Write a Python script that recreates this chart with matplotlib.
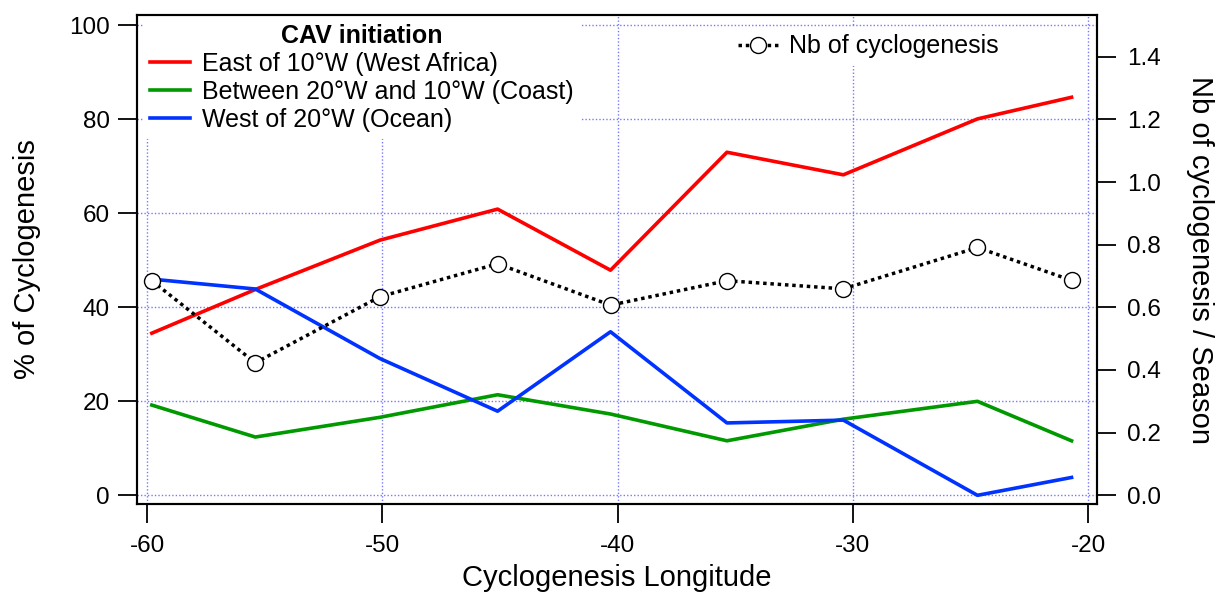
import matplotlib
matplotlib.use("Agg")
from matplotlib import pyplot as plt

plt.rcParams['font.family'] = ['Liberation Sans', 'DejaVu Sans']
plt.rcParams['axes.unicode_minus'] = False

# Donnees
longitude = [-59.8, -55.4, -50.1, -45.1, -40.3, -35.35, -30.4, -24.7, -20.7]
pct_west_africa = [34.5, 43.8, 54.3, 60.9, 47.9, 73.0, 68.2, 80.1, 84.7]
pct_coast = [19.2, 12.4, 16.6, 21.4, 17.3, 11.6, 16.2, 20.0, 11.6]
pct_ocean = [46.0, 43.9, 29.1, 17.9, 34.8, 15.4, 16.0, 0.0, 3.8]
nb_cyclo = [0.685, 0.423, 0.634, 0.739, 0.607, 0.685, 0.659, 0.791, 0.686]

fig = plt.figure(figsize=(12.21, 5.94), dpi=100)
ax = fig.add_axes([0.1122, 0.1515, 0.7862, 0.8232])
ax2 = ax.twinx()

lw = 2.6
ax.plot(longitude, pct_west_africa, color='#ff0000', lw=lw, label='East of 10°W (West Africa)')
ax.plot(longitude, pct_coast, color='#009900', lw=lw, label='Between 20°W and 10°W (Coast)')
ax.plot(longitude, pct_ocean, color='#0033ff', lw=lw, label='West of 20°W (Ocean)')

ax2.plot(longitude, nb_cyclo, color='black', lw=2.5, linestyle=(0, (1, 1.1)),
         marker='o', markersize=11.5, markerfacecolor='white', markeredgecolor='black',
         markeredgewidth=1.0, label='Nb of cyclogenesis')

ax.set_xlim(-60.43, -19.62)
ax.set_ylim(-1.85, 102.2)
ax2.set_ylim(-1.85 * 0.015, 102.2 * 0.015)
ax.set_xticks([-60, -50, -40, -30, -20])
ax.set_yticks([0, 20, 40, 60, 80, 100])
ax2.set_yticks([0.0, 0.2, 0.4, 0.6, 0.8, 1.0, 1.2, 1.4])
ax2.set_yticklabels(['%.1f' % v for v in [0.0, 0.2, 0.4, 0.6, 0.8, 1.0, 1.2, 1.4]])

ax.grid(True, color='#7878ff', linestyle=(0, (1, 1.5)), lw=1.0)
for a in (ax, ax2):
    a.tick_params(direction='out', length=13.5, width=1.3, labelsize=17.5)
    for s in a.spines.values():
        s.set_linewidth(1.5)
ax.tick_params(axis='x', pad=9)
ax.tick_params(axis='y', pad=6)
ax2.tick_params(axis='y', pad=8)

ax.set_xlabel('Cyclogenesis Longitude', fontsize=21, labelpad=5)
ax.set_ylabel('% of Cyclogenesis', fontsize=21, labelpad=20)
ax2.set_ylabel('Nb of cyclogenesis / Season', fontsize=21, rotation=270, labelpad=38)

leg = ax.legend(loc='upper left', bbox_to_anchor=(0.006, 0.996), fontsize=18,
                title='CAV initiation', title_fontproperties={'weight': 'bold', 'size': 18},
                frameon=True, facecolor='white', edgecolor='none', framealpha=1,
                fancybox=False, handlelength=1.6, handletextpad=0.45,
                labelspacing=0.15, borderpad=0.3, borderaxespad=0)

leg2 = ax2.legend(loc='upper left', bbox_to_anchor=(0.618, 0.976), fontsize=18,
                  frameon=True, facecolor='white', edgecolor='none', framealpha=1,
                  fancybox=False, handlelength=1.6, handletextpad=0.45,
                  borderpad=0.3, borderaxespad=0)

fig.savefig('out.png', dpi=100)
